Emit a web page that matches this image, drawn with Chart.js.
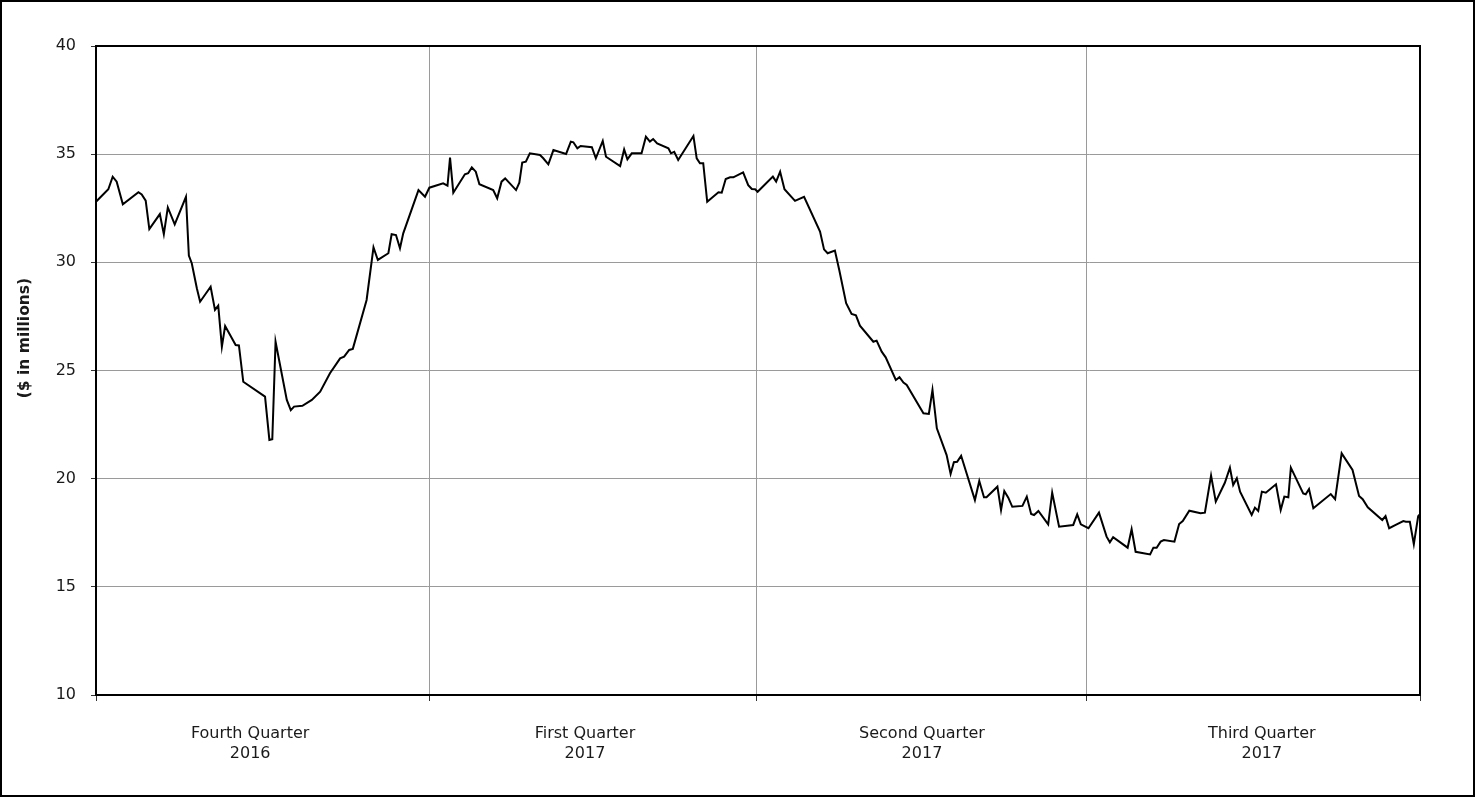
<!DOCTYPE html>
<html>
<head>
<meta charset="utf-8">
<script src="https://cdn.jsdelivr.net/npm/chart.js@4/dist/chart.umd.min.js"></script>
<style>
  html, body { margin: 0; padding: 0; background: #fff; }
  #wrap { position: relative; width: 1475px; height: 797px; }
  canvas { display: block; }
</style>
</head>
<body>
<div id="wrap"><canvas id="c" width="1475" height="797"></canvas></div>
<script>
// Day index since 1 Oct 2016 (x) and value in $ millions (y)
const days = [
  0,3.4,4.6,5.7,7.4,11.7,12.6,13.7,14.7,17.6,18.7,19.8,21.7,24.8,25.6,26.4,27.8,28.7,31.6,32.8,33.7,34.7,35.6,38.5,39.4,40.6,46.6,47.8,48.6,49.5,52.6,53.7,54.6,56.9,59.5,61.8,64.5,
  67.3,68.4,69.8,70.8,74.6,76.5,77.7,80.6,81.5,82.7,83.8,84.7,88.9,90.7,91.9,95.7,96.9,97.6,98.5,101.7,102.6,103.6,104.7,105.7,109.5,110.6,111.8,112.8,115.8,116.7,117.5,118.5,119.6,122.4,123.3,124.7,126.1,
  129.6,130.9,131.6,132.7,133.6,136.7,137.8,139.7,140.6,144.5,145.6,146.5,147.7,150.4,151.6,152.7,153.6,154.7,157.8,158.5,159.4,160.5,164.7,165.6,166.5,167.4,168.5,171.6,172.5,173.6,174.8,175.7,178.4,179.8,180.8,181.7,182.4,
  186.6,187.5,188.6,189.8,192.7,195.2,199.6,200.7,201.7,203.7,204.9,206.8,208.3,209.5,210.6,214.3,215.2,216.6,217.7,220.5,221.5,222.6,223.5,228.1,229.6,230.6,231.8,234.5,235.6,236.5,237.4,238.5,
  242.3,243.5,244.8,245.5,248.5,249.5,250.4,251.5,252.6,255.4,256.6,257.8,258.6,259.8,262.5,263.6,265.5,269.4,270.5,271.5,273.6,276.5,278.6,279.5,280.4,284.4,285.5,286.6,290.6,291.5,292.4,293.5,294.4,297.3,298.6,299.6,301.4,304.5,305.7,307.4,308.7,
  311.2,312.6,313.5,314.5,315.4,318.6,319.5,320.4,321.4,322.5,325.3,326.6,327.6,328.7,329.4,332.8,333.5,334.4,335.6,340.4,341.6,343.4,346.4,348.2,349.2,350.6,354.6,355.5,356.5,358.3,360.4,361.1,362.2,363.3,364.5,365
];
const values = [
  32.80,33.38,33.96,33.73,32.68,33.24,33.14,32.85,31.54,32.23,31.30,32.54,31.76,33.03,30.31,29.96,28.80,28.18,28.87,27.80,28.00,26.10,27.06,26.18,26.16,24.48,23.79,21.79,21.82,26.33,23.64,23.17,23.33,23.37,23.64,24.02,24.87,
  25.56,25.64,25.95,26.00,28.26,30.69,30.11,30.42,31.30,31.26,30.65,31.34,33.34,33.03,33.45,33.65,33.54,34.84,33.22,34.07,34.12,34.39,34.19,33.61,33.34,32.96,33.73,33.88,33.34,33.68,34.61,34.65,35.04,34.96,34.81,34.53,35.19,
  35.01,35.58,35.55,35.27,35.38,35.32,34.81,35.61,34.88,34.45,35.22,34.76,35.04,35.04,35.81,35.58,35.70,35.50,35.27,35.04,35.11,34.73,35.84,34.81,34.58,34.58,32.80,33.24,33.22,33.85,33.93,33.93,34.16,33.57,33.39,33.38,33.26,
  33.96,33.73,34.19,33.38,32.84,33.03,31.42,30.60,30.42,30.54,29.65,28.11,27.61,27.55,27.07,26.33,26.38,25.87,25.61,24.56,24.69,24.44,24.33,23.02,22.99,24.10,22.33,21.09,20.22,20.76,20.78,21.06,
  19.01,19.89,19.14,19.14,19.63,18.55,19.43,19.12,18.70,18.74,19.17,18.37,18.32,18.51,17.89,19.35,17.78,17.86,18.35,17.89,17.71,18.43,17.32,17.06,17.29,16.81,17.66,16.62,16.50,16.81,16.81,17.09,17.16,17.09,17.90,18.04,18.52,18.40,18.43,20.14,18.94,
  19.81,20.51,19.71,20.02,19.40,18.32,18.66,18.51,19.40,19.35,19.74,18.55,19.17,19.14,20.51,19.32,19.28,19.52,18.63,19.29,19.05,21.17,20.40,19.20,19.05,18.68,18.09,18.27,17.71,17.86,18.04,18.01,18.01,16.97,18.27,18.36
];
// Quarter boundaries (days) and quarter label positions/texts
const quarterBounds = [0, 92, 182, 273, 365];
const quarterLabelPos = [42.5, 134.8, 227.7, 321.4];
const quarterLabels = [
  ['Fourth Quarter', '2016'],
  ['First Quarter', '2017'],
  ['Second Quarter', '2017'],
  ['Third Quarter', '2017']
];
const yMin = 10, yMax = 40, yStep = 5;
const yTitle = '($ in millions)';

const FONT = "'DejaVu Sans', Verdana, sans-serif";
const TEXT = '#1a1a1a';
const GRID = '#9a9a9a';

const points = days.map((d, i) => ({ x: d, y: values[i] }));

const frameAndTitle = {
  id: 'frameAndTitle',
  afterDraw(chart) {
    const ctx = chart.ctx;
    const area = chart.chartArea;
    ctx.save();
    ctx.strokeStyle = '#000';
    ctx.lineWidth = 2;
    ctx.strokeRect(1, 1, chart.width - 2, chart.height - 2);
    // y-axis title
    ctx.fillStyle = TEXT;
    ctx.font = 'bold 15.5px ' + FONT;
    ctx.textAlign = 'center';
    ctx.textBaseline = 'middle';
    ctx.translate(25, area.top + (area.bottom - area.top) * 0.45);
    ctx.rotate(-Math.PI / 2);
    ctx.fillText(yTitle, 0, 0);
    ctx.restore();
  }
};

new Chart(document.getElementById('c'), {
  type: 'line',
  data: {
    datasets: [{
      data: points,
      borderColor: '#000',
      borderWidth: 2,
      pointRadius: 0,
      tension: 0,
      fill: false
    }]
  },
  options: {
    responsive: false,
    animation: false,
    devicePixelRatio: 1,
    layout: { padding: { top: 46, right: 55, left: 0, bottom: 0 } },
    plugins: { legend: { display: false }, tooltip: { enabled: false } },
    scales: {
      x: {
        type: 'linear', position: 'bottom', min: 0, max: 365,
        afterBuildTicks: s => { s.ticks = quarterBounds.map(v => ({ value: v })); },
        afterFit: s => { s.height = 0; },
        grid: { color: GRID, lineWidth: 1, drawTicks: true, tickLength: 6, tickColor: '#333' },
        border: { display: false },
        ticks: { display: false }
      },
      xq: {
        type: 'linear', position: 'bottom', min: 0, max: 365,
        afterBuildTicks: s => { s.ticks = quarterLabelPos.map(v => ({ value: v })); },
        afterFit: s => { s.height = 102; },
        grid: { display: false },
        border: { display: true, color: '#000', width: 2 },
        ticks: {
          autoSkip: false, maxRotation: 0, padding: 21,
          color: TEXT, font: { family: FONT, size: 16, lineHeight: 1.25 },
          callback: (v) => {
            const i = quarterLabelPos.indexOf(v);
            return i >= 0 ? quarterLabels[i] : '';
          }
        }
      },
      xt: {
        type: 'linear', position: 'top', min: 0, max: 365,
        afterFit: s => { s.height = 0; },
        grid: { display: false },
        border: { display: true, color: '#000', width: 2 },
        ticks: { display: false }
      },
      y: {
        type: 'linear', position: 'left', min: yMin, max: yMax,
        afterFit: s => { s.width = 96; },
        grid: { color: GRID, lineWidth: 1, drawTicks: true, tickLength: 5, tickColor: '#333' },
        border: { display: true, color: '#000', width: 2 },
        ticks: { stepSize: yStep, padding: 15, color: TEXT, font: { family: FONT, size: 16 } }
      },
      yr: {
        type: 'linear', position: 'right', min: yMin, max: yMax,
        afterFit: s => { s.width = 0; },
        grid: { display: false },
        border: { display: true, color: '#000', width: 2 },
        ticks: { display: false }
      }
    }
  },
  plugins: [frameAndTitle]
});
</script>
</body>
</html>
